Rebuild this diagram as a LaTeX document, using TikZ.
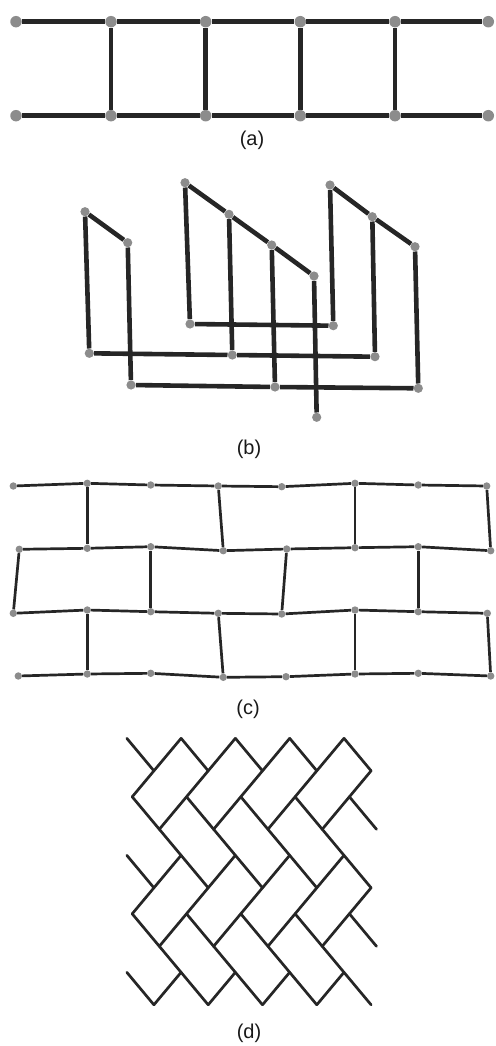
\documentclass[tikz,border=0pt]{standalone}
\usepackage{fontspec}
\setmainfont{Liberation Sans}
\definecolor{barcol}{RGB}{38,38,38}
\definecolor{ballcol}{RGB}{140,140,140}
\definecolor{txtcol}{RGB}{25,25,25}
\pgfdeclarelayer{bg}
\pgfsetlayers{bg,main}
\begin{document}
\begin{tikzpicture}[x=1pt,y=-1pt,
  ballA/.style={circle,fill=ballcol,inner sep=0pt,minimum size=11.5pt},
  ballB/.style={circle,fill=ballcol,inner sep=0pt,minimum size=9.2pt},
  ballC/.style={circle,fill=ballcol,inner sep=0pt,minimum size=7.4pt},
  barA/.style={draw=barcol,line width=4.8pt},
  barB/.style={draw=barcol,line width=4.6pt},
  barC/.style={draw=barcol,line width=2.7pt},
  barD/.style={draw=barcol,line width=2.7pt,line cap=round},
  lab/.style={font=\fontsize{20}{24}\selectfont, text=txtcol, inner sep=0pt}
]
\useasboundingbox (0,0) rectangle (495,1046);

% ---------------- (a) ladder ----------------
\foreach \i/\x in {0/16,1/111,2/205.7,3/300.3,4/395,5/488.3} {
  \node[ballA] (at\i) at (\x,21.7) {};
  \node[ballA] (ab\i) at (\x,115.7) {};
}
\begin{pgfonlayer}{bg}
\foreach \i [evaluate=\i as \j using int(\i+1)] in {0,...,4} {
  \draw[barA] (at\i) -- (at\j);
  \draw[barA] (ab\i) -- (ab\j);
}
\foreach \i in {1,...,4} \draw[barA] (at\i) -- (ab\i);
\end{pgfonlayer}
\node[lab] (la) at (252,140) {(a)};

% ---------------- (b) folded chains ----------------
\foreach \n/\x/\y in {p1/85/211.7, p2/127.7/242.7, p3/89.3/353.3, p4/131/385,
  q1/185/182.7, q2/229/214.3, q3/271.7/245, q4/314/276,
  q5/190/324, q6/232.3/355, q7/275/387, q8/316.7/417.3,
  r1/330/185, r2/372.3/216.7, r3/415/246.7,
  r5/333.3/325.7, r6/375/356.7, r7/418.3/388.3}
  \node[ballB] (\n) at (\x,\y) {};
\begin{pgfonlayer}{bg}
\foreach \a/\b in {p1/p2, p1/p3, p2/p4,
  q1/q2, q2/q3, q3/q4, q1/q5, q2/q6, q3/q7, q4/q8,
  r1/r2, r2/r3, r1/r5, r2/r6, r3/r7,
  q5/r5, p3/q6, q6/r6, p4/q7, q7/r7}
  \draw[barB] (\a) -- (\b);
\end{pgfonlayer}
\node[lab] (lb) at (249,449) {(b)};

% ---------------- (c) brick lattice ----------------
\foreach \n/\x/\y in {
  11/13.3/486, 12/87.3/483.3, 13/150.7/485, 14/218.3/486, 15/281.7/486.7, 16/355/483.3, 17/418.3/485, 18/486.7/486,
  21/19.3/549.3, 22/87.3/548.3, 23/150.7/546.7, 24/223.3/550.7, 25/286.7/549, 26/355/547.7, 27/418.3/546.7, 28/490.7/550.7,
  31/13.3/613.3, 32/87.3/610, 33/150.7/611.7, 34/218.3/613.3, 35/281.7/614, 36/355/610, 37/418.3/611.7, 38/487.3/613.3,
  41/18.3/676, 42/87.3/674, 43/150.7/673.3, 44/223.3/677.3, 45/286/676.7, 46/355/674, 47/418.3/673.3, 48/490.7/676}
  \node[ballC] (c\n) at (\x,\y) {};
\begin{pgfonlayer}{bg}
\foreach \r in {1,...,4} {
  \foreach \i [evaluate=\i as \j using int(\i+1)] in {1,...,7}
    \draw[barC] (c\r\i) -- (c\r\j);
}
\foreach \a/\b in {12/22, 14/24, 16/26, 18/28, 21/31, 23/33, 25/35, 27/37,
  32/42, 34/44, 36/46, 38/48}
  \draw[barC] (c\a) -- (c\b);
\end{pgfonlayer}
\node[lab] (lc) at (248,709) {(c)};

% ---------------- (d) herringbone ----------------
\foreach \r/\yy/\xb in {0/738.3/126.8, 1/770.8/153.9, 2/796.8/132.2, 3/829.3/159.3,
  4/855.3/126.8, 5/887.8/153.9, 6/913.8/132.2, 7/946.3/159.3, 8/972.3/126.8, 9/1004.8/153.9}
  \foreach \k in {0,...,4}
    \coordinate (d\r-\k) at ({\xb+54.3*\k},\yy);
\foreach \a/\b in {2-0/0-1, 3-0/0-2, 3-1/0-3, 3-2/0-4, 3-3/1-4,
  6-0/4-1, 7-0/4-2, 7-1/4-3, 7-2/4-4, 7-3/5-4,
  9-0/8-1, 9-1/8-2, 9-2/8-3, 9-3/8-4,
  0-0/1-0, 0-1/1-1, 0-2/1-2, 0-3/1-3, 0-4/1-4,
  2-0/5-1, 2-1/5-2, 2-2/5-3, 2-3/5-4, 2-4/3-4, 4-0/5-0,
  6-0/9-1, 6-1/9-2, 6-2/9-3, 6-3/9-4, 6-4/7-4, 8-0/9-0}
  \draw[barD] (d\a) -- (d\b);
\node[lab] (ld) at (249,1033) {(d)};
\end{tikzpicture}
\end{document}
